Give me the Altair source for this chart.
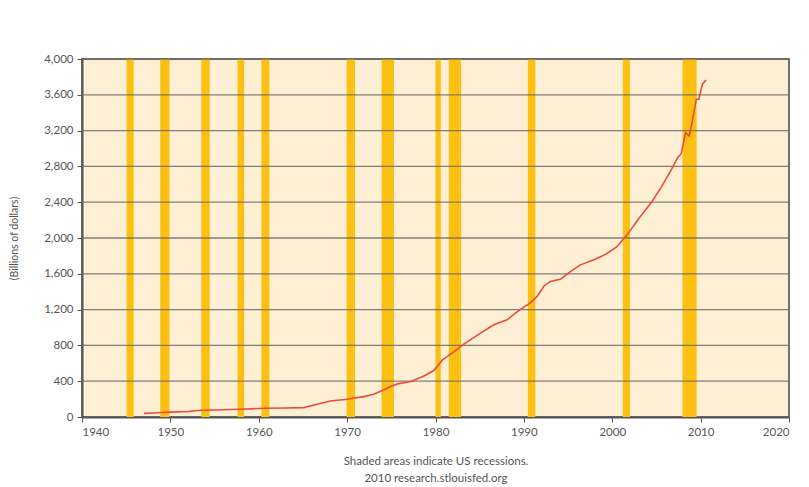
import altair as alt
import pandas as pd

# Series (billions of dollars)
years = [1947, 1948, 1949, 1950, 1952, 1953.4, 1955, 1957.9, 1960.5, 1963, 1965.1, 1966.5,
         1968.1, 1970, 1971.9, 1973, 1974.1, 1974.9, 1975.7, 1977.2, 1978.7, 1979.8, 1980.8,
         1982.1, 1983.2, 1985.1, 1986.6, 1988.1, 1989.3, 1990.8, 1991.5, 1992.3, 1993.0,
         1994.2, 1995.3, 1996.4, 1998, 1999.3, 2000.5, 2001.7, 2003.2, 2004.4, 2005.5,
         2006.6, 2007.4, 2007.8, 2008.3, 2008.7, 2009.1, 2009.5, 2009.8, 2010.2, 2010.6]
values = [40, 45, 50, 55, 62, 75, 78, 86, 97, 100, 105, 140,
          179, 198, 228, 255, 302, 340, 370, 396, 459, 519, 638,
          731, 814, 937, 1030, 1086, 1180, 1280, 1347, 1467, 1515,
          1542, 1627, 1700, 1760, 1820, 1900, 2038, 2244, 2393, 2561,
          2747, 2897, 2942, 3178, 3140, 3326, 3550, 3550, 3718, 3766]

# US recessions (start, end) as decimal years
rec_start = [1945.05, 1948.85, 1953.5, 1957.6, 1960.3, 1969.95, 1973.9, 1980.0, 1981.5,
             1990.45, 2001.2, 2007.95]
rec_end = [1945.85, 1949.9, 1954.45, 1958.35, 1961.2, 1970.9, 1975.3, 1980.6, 1982.9,
           1991.3, 2002.0, 2009.55]

y_ticks = [0, 400, 800, 1200, 1600, 2000, 2400, 2800, 3200, 3600, 4000]
x_ticks = [1940, 1950, 1960, 1970, 1980, 1990, 2000, 2010, 2020]

series = pd.DataFrame({"year": years, "value": values})
recessions = pd.DataFrame({"start": rec_start, "end": rec_end})
grid = pd.DataFrame({"v": y_ticks[1:]})

FONT = "Lato"
xscale = alt.Scale(domain=[1940, 2020], nice=False, zero=False)
yscale = alt.Scale(domain=[0, 4000], nice=False)

xaxis = alt.Axis(values=x_ticks, format="d", grid=False, labelOverlap=False,
                 title=["Shaded areas indicate US recessions.",
                        "2010 research.stlouisfed.org"],
                 titleFont=FONT, titleFontSize=11.5, titleFontWeight="normal",
                 titleColor="#555555", titlePadding=18, titleLineHeight=17,
                 labelFont=FONT, labelFontSize=11.5, labelColor="#555555",
                 labelPadding=4, tickSize=5, tickColor="#555555",
                 domainColor="#555555", domainWidth=2)
yaxis = alt.Axis(values=y_ticks, format=",d", grid=False, labelOverlap=False,
                 title="(Billions of dollars)",
                 titleFont=FONT, titleFontSize=10.5, titleFontWeight="normal",
                 titleColor="#555555", titlePadding=24,
                 labelFont=FONT, labelFontSize=11.5, labelColor="#555555",
                 labelPadding=4, tickSize=5, tickColor="#555555",
                 domainColor="#555555", domainWidth=2)

bands = alt.Chart(recessions).mark_rect(color="#FCC012").encode(
    x=alt.X("start:Q", scale=xscale, axis=xaxis),
    x2="end:Q",
    y=alt.value(0),
    y2=alt.value(358),
)

gridlines = alt.Chart(grid).mark_rule(color="#6f6a60", strokeWidth=1.3, opacity=0.85).encode(
    y=alt.Y("v:Q", scale=yscale, axis=yaxis),
)

line = alt.Chart(series).mark_line(color="#EE4A3A", strokeWidth=1.6).encode(
    x=alt.X("year:Q", scale=xscale, axis=xaxis),
    y=alt.Y("value:Q", scale=yscale, axis=yaxis),
)

chart = alt.layer(bands, gridlines, line).properties(
    width=707,
    height=358,
    autosize=alt.AutoSizeParams(type="none"),
    padding={"left": 74, "top": 51, "right": 12, "bottom": 78},
    background="#ffffff",
).configure_view(
    fill="#FDEFD4",
    stroke="#707070",
    strokeWidth=2,
)

chart.save("out.html", embed_options={"renderer": "svg", "actions": False})
